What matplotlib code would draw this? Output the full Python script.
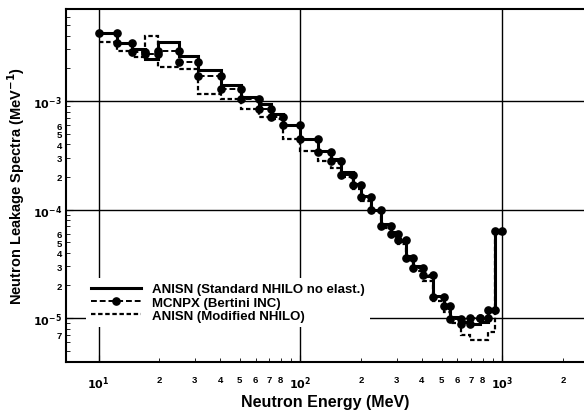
import numpy as np
import matplotlib
matplotlib.use("Agg")
import matplotlib.pyplot as plt
from matplotlib.lines import Line2D
from matplotlib.ticker import FixedLocator

plt.rcParams['font.family'] = ['Liberation Sans', 'DejaVu Sans']

# group boundaries (MeV)
edges = [10, 12.3, 14.6, 16.9, 19.8, 25.1, 31.2, 40.5, 50.8, 62.4, 71.5, 82,
         100, 122, 141, 159, 182, 199, 223, 250, 280, 306, 332, 363, 407,
         456, 512, 554, 621, 695, 779, 853, 923, 1000]

# leakage spectra per group (1/MeV)
anisn_std = [4.24e-3, 3.43e-3, 3.0e-3, 2.45e-3, 3.5e-3, 2.6e-3, 1.93e-3,
             1.40e-3, 1.09e-3, 9.4e-4, 7.6e-4, 6.0e-4, 4.47e-4, 3.5e-4,
             2.92e-4, 2.22e-4, 1.72e-4, 1.33e-4, 1.0e-4, 7.3e-5, 6.2e-5,
             5.1e-5, 3.75e-5, 3.0e-5, 2.45e-5, 1.6e-5, 1.29e-5, 1.02e-5,
             9.2e-6, 8.8e-6, 9.2e-6, 1.2e-5, 6.3e-5]
mcnpx = [4.24e-3, 3.43e-3, 2.8e-3, 2.7e-3, 2.9e-3, 2.29e-3, 1.7e-3,
         1.29e-3, 1.04e-3, 8.4e-4, 7.1e-4, 6.0e-4, 4.47e-4, 3.4e-4,
         2.8e-4, 2.1e-4, 1.7e-4, 1.3e-4, 1.0e-4, 7.0e-5, 6.0e-5,
         5.3e-5, 3.6e-5, 2.9e-5, 2.5e-5, 1.55e-5, 1.3e-5, 9.8e-6,
         8.8e-6, 1.0e-5, 1.0e-5, 1.2e-5, 6.3e-5]
anisn_mod = [3.5e-3, 2.9e-3, 2.54e-3, 4.0e-3, 2.06e-3, 1.97e-3, 1.16e-3,
             1.04e-3, 8.4e-4, 7.1e-4, 6.8e-4, 4.47e-4, 3.46e-4, 2.8e-4,
             2.4e-4, 2.0e-4, 1.55e-4, 1.2e-4, 9.5e-5, 6.8e-5, 5.6e-5,
             4.8e-5, 3.4e-5, 2.7e-5, 2.2e-5, 1.45e-5, 1.15e-5, 9.0e-6,
             7.0e-6, 6.3e-6, 6.3e-6, 7.5e-6, 6.0e-5]

labels = ['ANISN (Standard NHILO no elast.)', 'MCNPX (Bertini INC)',
          'ANISN (Modified NHILO)']

fig = plt.figure(figsize=(5.84, 4.14), dpi=100)
ax = fig.add_axes([0.113, 0.123, 0.887, 0.853])

ax.set_xscale('log')
ax.set_yscale('log')

ax.stairs(anisn_mod, edges, baseline=None, color='black', lw=1.6,
          ls=(0, (2, 1.2)), zorder=3)
ax.stairs(mcnpx, edges, baseline=None, color='black', lw=1.4,
          ls=(0, (3, 1.5)), zorder=4)
e = np.array(edges)
xm = np.column_stack([e[:-1], e[1:]]).ravel()
ym = np.repeat(mcnpx, 2)
ax.plot(xm, ym, 'o', color='black', ms=5.2, zorder=5)
ax.stairs(anisn_std, edges, baseline=None, color='black', lw=2.2, zorder=6)

# grid only at decades
for xv in [10, 100, 1000]:
    ax.axvline(xv, color='black', lw=1.0, zorder=1)
for yv in [1e-3, 1e-4, 1e-5]:
    ax.axhline(yv, color='black', lw=1.0, zorder=1)

# ticks
ax.xaxis.set_major_locator(FixedLocator([10, 100, 1000]))
ax.set_xticklabels(['$\\mathbf{10^1}$', '$\\mathbf{10^2}$', '$\\mathbf{10^3}$'])
xminor = [m * d for d in [10, 100] for m in range(2, 10)] + [2000]
xminor_lab = [str(m) if m <= 8 else '' for d in [10, 100] for m in range(2, 10)] + ['2']
ax.set_xticks(xminor, xminor_lab, minor=True)

ax.yaxis.set_major_locator(FixedLocator([1e-5, 1e-4, 1e-3]))
ax.set_yticklabels(['$\\mathbf{10^{-5}}$', '$\\mathbf{10^{-4}}$', '$\\mathbf{10^{-3}}$'])
yminor = [m * d for d in [1e-6] for m in range(4, 10)] + \
         [m * d for d in [1e-5, 1e-4] for m in range(2, 10)] + [2e-3, 3e-3, 4e-3, 5e-3, 6e-3, 7e-3]
yminor_lab = ['', '', '', '7', '', ''] + \
             [str(m) if m <= 6 else '' for d in [1e-5, 1e-4] for m in range(2, 10)] + [''] * 6
ax.set_yticks(yminor, yminor_lab, minor=True)

ax.set_xlim(6.9, 2540)
ax.set_ylim(3.94e-6, 7.05e-3)

ax.tick_params(axis='both', which='both', direction='in', labelsize=8)
ax.tick_params(axis='x', which='both', pad=9)
ax.tick_params(axis='y', which='both', pad=3)
ax.tick_params(which='major', length=5)
ax.tick_params(which='minor', length=3)
for lab in ax.get_xticklabels(minor=True) + ax.get_yticklabels(minor=True):
    lab.set_fontweight('bold')
    lab.set_fontsize(6.8)

for sp in ['left', 'bottom', 'top']:
    ax.spines[sp].set_linewidth(1.5)
ax.spines['right'].set_visible(False)

ax.set_xlabel('Neutron Energy (MeV)', fontsize=11.5, fontweight='bold', labelpad=2)
ax.set_ylabel('Neutron Leakage Spectra (MeV$^\\mathbf{-1}$)', fontsize=10.5,
              fontweight='bold', labelpad=4)

handles = [
    Line2D([], [], color='black', lw=2.2),
    Line2D([], [], color='black', lw=1.4, ls=(0, (3, 1.5)), marker='o', ms=5.2),
    Line2D([], [], color='black', lw=1.6, ls=(0, (2, 1.2))),
]
leg = ax.legend(handles, labels, loc='lower left', bbox_to_anchor=(0.025, 0.08),
                frameon=True, fancybox=False, edgecolor='none', facecolor='white',
                framealpha=1, handlelength=3.8, handletextpad=0.8,
                labelspacing=0.08, borderpad=0.4,
                prop={'weight': 'bold', 'size': 9.5})
leg.set_zorder(10)

fig.savefig('out.png', dpi=100)
